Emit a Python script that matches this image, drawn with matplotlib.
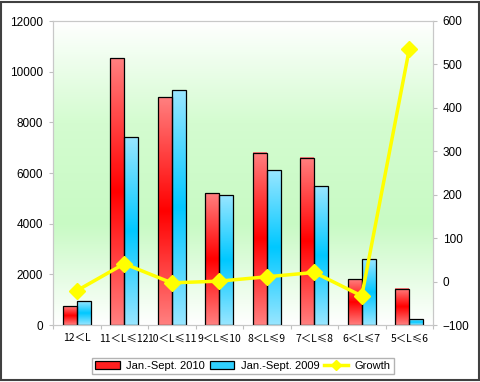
import numpy as np
import matplotlib
matplotlib.use('Agg')
import matplotlib.pyplot as plt
from matplotlib.colors import LinearSegmentedColormap
from matplotlib.patches import Rectangle
from matplotlib.lines import Line2D

plt.rcParams['font.family'] = ['Liberation Sans', 'DejaVu Sans']

categories = ['12＜L', '11＜L≤12', '10＜L≤11', '9＜L≤10', '8＜L≤9', '7＜L≤8', '6＜L≤7', '5＜L≤6']
sales_2010 = [740, 10530, 8990, 5200, 6800, 6605, 1800, 1435]
sales_2009 = [940, 7420, 9270, 5130, 6110, 5475, 2595, 230]
growth = [-21, 41, -3, 1, 11, 21, -33, 535]

fig = plt.figure(figsize=(4.8, 3.82), dpi=100)
ax = fig.add_axes([53/480, 57/382, 380/480, 304/382])
ax2 = ax.twinx()

# plot area background: white -> green -> white
bg = LinearSegmentedColormap.from_list('bg', ['#ffffff', '#d4fcd0', '#c8fac4', '#ffffff'])
grad = np.linspace(0, 1, 256).reshape(-1, 1)
ax.imshow(grad, cmap=bg, aspect='auto', extent=[0, 1, 0, 1], transform=ax.transAxes, zorder=0)

red_cm = LinearSegmentedColormap.from_list('r', ['#ff8080', '#ff0000', '#ff8080'])
blue_cm = LinearSegmentedColormap.from_list('b', ['#99e6ff', '#00c8ff', '#99e6ff'])

x = np.arange(len(categories))
w = 0.29

def grad_bars(xs, hs, cm):
	for xi, h in zip(xs, hs):
		ax.imshow(grad, cmap=cm, aspect='auto', extent=[xi - w/2, xi + w/2, 0, h], zorder=2)
	ax.bar(xs, hs, width=w, facecolor='none', edgecolor='black', linewidth=0.9, zorder=3)

grad_bars(x - w/2, sales_2010, red_cm)
grad_bars(x + w/2, sales_2009, blue_cm)

ax.set_xlim(-0.5, len(categories) - 0.5)
ax.set_ylim(0, 12000)
ax.set_yticks(range(0, 12001, 2000))
ax.set_xticks(np.arange(len(categories) + 1) - 0.5, minor=False)
ax.set_xticklabels([])
ax.set_xticks(x, minor=True)
ax.set_xticklabels(categories, minor=True, fontsize=7.5, family=['Noto Sans CJK SC', 'DejaVu Sans'])
ax.tick_params(axis='x', which='minor', length=0, pad=6)
ax.tick_params(axis='x', which='major', length=3, direction='out', color='#c0c0c0')
ax.tick_params(axis='y', length=3, color='#c0c0c0', labelsize=8.5, pad=4)

ax2.plot(x, growth, color='#ffff00', linewidth=2.5, marker='D', markersize=8, zorder=5)
ax2.set_ylim(-100, 600)
ax2.set_yticks(range(-100, 601, 100))
ax2.tick_params(axis='y', length=3, color='#c0c0c0', labelsize=8.5, pad=4)

for a in (ax, ax2):
	for s in a.spines.values():
		s.set_color('#c8c8c8')

handles = [
	Rectangle((0, 0), 1, 1, facecolor='#ff2020', edgecolor='black', linewidth=0.9),
	Rectangle((0, 0), 1, 1, facecolor='#30d0ff', edgecolor='black', linewidth=0.9),
	Line2D([], [], color='#ffff00', linewidth=2.5, marker='D', markersize=5),
]
fig.legend(handles, ['Jan.-Sept. 2010', 'Jan.-Sept. 2009', 'Growth'], ncol=3,
	loc='center', bbox_to_anchor=(243/480, 1 - 366/382), fontsize=8,
	frameon=True, fancybox=False, edgecolor='#a0a0a0', borderpad=0.3,
	handlelength=2.2, handletextpad=0.6, columnspacing=0.4)

fig.patches.append(Rectangle((0.003, 0.004), 0.994, 0.992, transform=fig.transFigure,
	fill=False, edgecolor='#404040', linewidth=1.5))

fig.savefig('out.png', dpi=100)
